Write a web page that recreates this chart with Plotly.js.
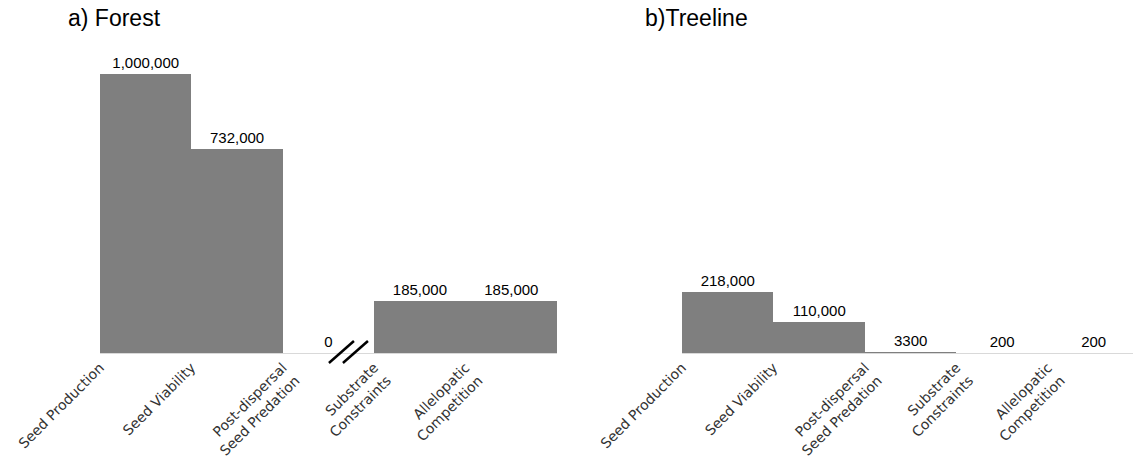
<!DOCTYPE html>
<html>
<head>
<meta charset="utf-8">
<script src="https://cdn.plot.ly/plotly-3.0.1.min.js"></script>
<style>html,body{margin:0;padding:0;background:#fff;}#chart{width:1133px;height:463px;}</style>
</head>
<body>
<div id="chart"></div>
<script>
const categories = ["Seed Production", "Seed Viability", "Post-dispersal<br>Seed Predation", "Substrate<br>Constraints", "Allelopatic<br>Competition"];
const forestValues = [1000000, 732000, 0, 185000, 185000];
const forestLabels = ["1,000,000", "732,000", "0", "185,000", "185,000"];
const treelineValues = [218000, 110000, 3300, 200, 200];
const treelineLabels = ["218,000", "110,000", "3300", "200", "200"];
const panelTitles = ["a) Forest", "b)Treeline"];

const idx = categories.map((c, i) => i);
const centers = idx.map(i => i + 0.5);

const barStyle = {color: '#7f7f7f', line: {width: 0}};
const textFont = {family: 'Liberation Sans, Arial, sans-serif', size: 15, color: '#000'};

const traces = [
  {type: 'bar', x: centers, y: forestValues, width: 1, text: forestLabels,
   textposition: 'outside', textfont: textFont, cliponaxis: false,
   marker: barStyle, xaxis: 'x', yaxis: 'y', hoverinfo: 'skip'},
  {type: 'bar', x: centers, y: treelineValues, width: 1, text: treelineLabels,
   textposition: 'outside', textfont: textFont, cliponaxis: false,
   marker: barStyle, xaxis: 'x2', yaxis: 'y2', hoverinfo: 'skip'}
];

const tickFont = {family: 'DejaVu Sans, Verdana, sans-serif', size: 14, color: '#333'};
const xCommon = {
  tickmode: 'array', tickvals: idx, ticktext: categories, tickangle: -45,
  tickfont: tickFont, showgrid: false, zeroline: false, showline: true,
  linecolor: '#d9d9d9', linewidth: 1, ticks: '', fixedrange: true
};
const yCommon = {
  range: [0, 1050000], showgrid: false, zeroline: false, showline: false,
  showticklabels: false, ticks: '', fixedrange: true
};
const yDomain = [1 - 353 / 463, 1 - 60 / 463];

const layout = {
  width: 1133, height: 463,
  margin: {l: 0, r: 0, t: 0, b: 0},
  paper_bgcolor: '#fff', plot_bgcolor: 'rgba(0,0,0,0)',
  showlegend: false, bargap: 0,
  xaxis: Object.assign({}, xCommon, {domain: [100 / 1133, 557 / 1133], range: [0, 5], anchor: 'y'}),
  yaxis: Object.assign({}, yCommon, {domain: yDomain, anchor: 'x'}),
  xaxis2: Object.assign({}, xCommon, {domain: [682 / 1133, 1], range: [0, 4.93], anchor: 'y2'}),
  yaxis2: Object.assign({}, yCommon, {domain: yDomain, anchor: 'x2'}),
  annotations: [
    {text: panelTitles[0], xref: 'paper', yref: 'paper', x: 66 / 1133, y: 1 - 18 / 463,
     xanchor: 'left', yanchor: 'middle', showarrow: false,
     font: {family: 'Liberation Sans, Arial, sans-serif', size: 23, color: '#000'}},
    {text: panelTitles[1], xref: 'paper', yref: 'paper', x: 643 / 1133, y: 1 - 18 / 463,
     xanchor: 'left', yanchor: 'middle', showarrow: false,
     font: {family: 'Liberation Sans, Arial, sans-serif', size: 23, color: '#000'}}
  ],
  shapes: [
    {type: 'line', xref: 'x', yref: 'paper', xsizemode: 'pixel', ysizemode: 'pixel',
     xanchor: 2.8, yanchor: yDomain[0], x0: -27, y0: -10, x1: -2, y1: 12,
     line: {color: '#000', width: 2.5}},
    {type: 'line', xref: 'x', yref: 'paper', xsizemode: 'pixel', ysizemode: 'pixel',
     xanchor: 2.8, yanchor: yDomain[0], x0: -13, y0: -10, x1: 12, y1: 12,
     line: {color: '#000', width: 2.5}}
  ]
};

Plotly.newPlot('chart', traces, layout, {displayModeBar: false, staticPlot: true});
</script>
</body>
</html>
